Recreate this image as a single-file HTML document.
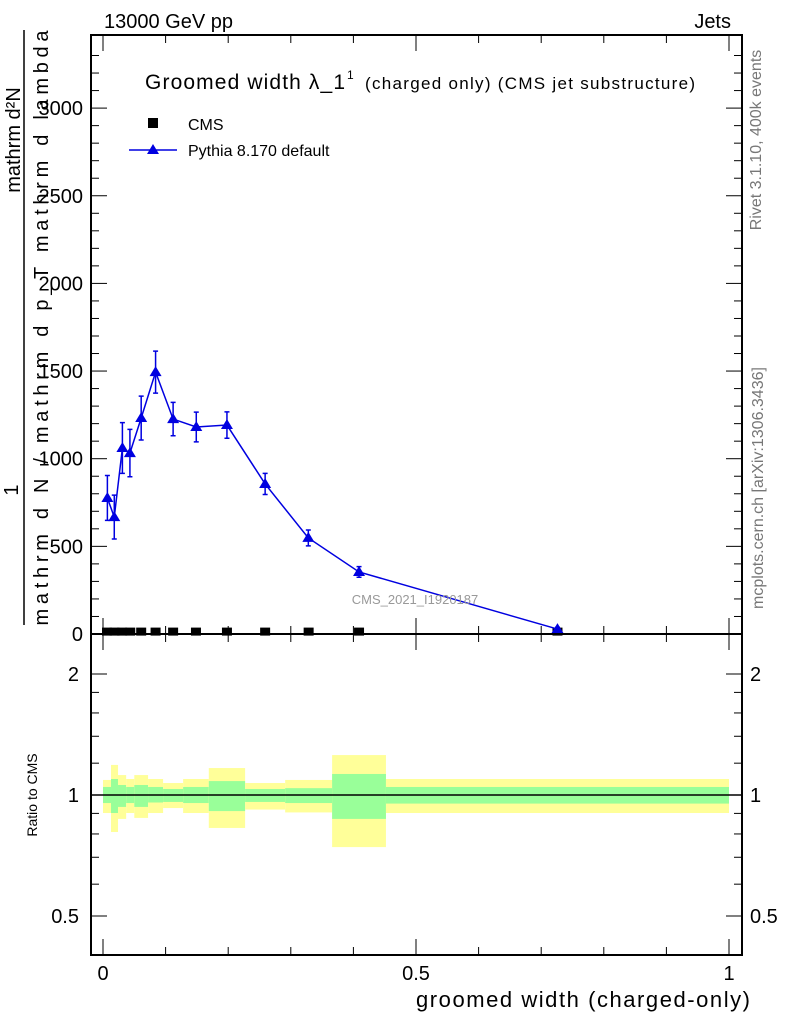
<!DOCTYPE html>
<html><head><meta charset="utf-8"><style>
body{margin:0;background:#fff;}
svg{display:block;font-family:"Liberation Sans",sans-serif;}
</style></head><body>
<svg id="c" width="786" height="1024" viewBox="0 0 786 1024">
<g id="bands"></g>
<g id="main"></g>
<g id="axes" stroke="#000" fill="none"></g>
<text x="104" y="28" font-size="20">13000 GeV pp</text>
<text x="731" y="28" font-size="20" text-anchor="end">Jets</text>
<text x="145" y="89" font-size="21" textLength="200">Groomed width λ_1</text>
<text x="347" y="79" font-size="12">1</text>
<text x="365" y="89" font-size="17" textLength="330">(charged only) (CMS jet substructure)</text>
<rect x="148" y="118" width="10" height="10" fill="#000"/>
<text x="188" y="130" font-size="16">CMS</text>
<line x1="129" y1="150" x2="177" y2="150" stroke="#0000e0" stroke-width="1.5"/>
<polygon points="153,144 147,154 159,154" fill="#0000e0"/>
<text x="188" y="156" font-size="16">Pythia 8.170 default</text>
<text x="415" y="604" font-size="13" fill="#999" text-anchor="middle">CMS_2021_I1920187</text>
<text transform="translate(761,140) rotate(-90)" font-size="16" fill="#777" text-anchor="middle">Rivet 3.1.10,  400k events</text>
<text transform="translate(763,488) rotate(-90)" font-size="16" fill="#777" text-anchor="middle">mcplots.cern.ch [arXiv:1306.3436]</text>
<g font-size="20">
<text transform="translate(18,490) rotate(-90)" text-anchor="middle">1</text>
<line x1="24" y1="625" x2="24" y2="30" stroke="#000" stroke-width="1.5"/>
<text transform="translate(48,328) rotate(-90)" text-anchor="middle" textLength="595">mathrm d N / mathrm d p_T mathrm d lambda</text>
<text transform="translate(20,140) rotate(-90)" text-anchor="middle">mathrm d²N</text>
</g>
<text transform="translate(37,795) rotate(-90)" font-size="14" text-anchor="middle">Ratio to CMS</text>
<text x="750" y="1007" font-size="22" text-anchor="end" textLength="334">groomed width (charged-only)</text>
</svg>
<script>
const binEdges=[0,0.0128,0.024,0.037,0.05,0.072,0.096,0.128,0.169,0.227,0.291,0.366,0.452,1.0];
const pythiaX=[0.007,0.018,0.031,0.043,0.061,0.084,0.112,0.149,0.198,0.259,0.328,0.409,0.726];
const pythiaY=[776,667,1061,1032,1232,1494,1226,1181,1192,856,548,354,28];
const pythiaErr=[128,125,145,135,125,120,95,85,75,60,45,30,10];
const cmsY=[8,8,8,8,8,8,8,8,8,8,8,8,8];
const yellowHi=[1.09,1.188,1.121,1.096,1.121,1.096,1.071,1.096,1.167,1.071,1.09,1.257,1.096];
const yellowLo=[0.902,0.809,0.872,0.902,0.877,0.902,0.928,0.902,0.828,0.92,0.905,0.742,0.902];
const greenHi=[1.047,1.096,1.059,1.047,1.059,1.047,1.035,1.047,1.083,1.035,1.04,1.128,1.047];
const greenLo=[0.955,0.902,0.934,0.955,0.934,0.958,0.961,0.955,0.912,0.961,0.955,0.872,0.952];
const yTicks=[0,500,1000,1500,2000,2500,3000];
const xTicks=[0,0.5,1];
const rTicks=[0.5,1,2];

const NS="http://www.w3.org/2000/svg";
const L=91,R=742,T=35,MB=634,RB=955;
const X=v=>103+v*626;
const Y=v=>634-v*0.1753;
const RY=r=>795-121*Math.log2(r);
function mk(tag,at,parent){const e=document.createElementNS(NS,tag);for(const k in at)e.setAttribute(k,at[k]);parent.appendChild(e);return e;}
const bands=document.getElementById('bands'),main=document.getElementById('main'),axes=document.getElementById('axes');
for(let i=0;i<binEdges.length-1;i++){
  const x1=X(binEdges[i]),x2=X(binEdges[i+1]);
  const y=mk('rect',{x:x1,y:RY(yellowHi[i]),width:x2-x1,height:RY(yellowLo[i])-RY(yellowHi[i]),fill:'#ffff99'},bands);
  
  
  const g=mk('rect',{x:x1,y:RY(greenHi[i]),width:x2-x1,height:RY(greenLo[i])-RY(greenHi[i]),fill:'#99ff99'},bands);
  
  
  const c=mk('rect',{x:x1+(x2-x1)/2-5,y:Y(cmsY[i])-5,width:10,height:8,fill:'#000'},main);
  
  
}
const rl=mk('line',{x1:L,x2:R,y1:RY(1),y2:RY(1),stroke:'#000','stroke-width':1.5},bands);


const pl=mk('polyline',{points:pythiaX.map((x,i)=>X(x)+','+Y(pythiaY[i])).join(' '),fill:'none',stroke:'#0000e0','stroke-width':1.5},main);


pythiaX.forEach((x,i)=>{
  const px=X(x),py=Y(pythiaY[i]),t=Y(pythiaY[i]+pythiaErr[i]),b=Y(pythiaY[i]-pythiaErr[i]);
  mk('path',{d:`M${px},${t}V${b}M${px-2.5},${t}h5M${px-2.5},${b}h5`,stroke:'#0000e0','stroke-width':1.5,fill:'none'},main);
  const p=mk('polygon',{points:`${px},${py-6} ${px-6},${py+4} ${px+6},${py+4}`,fill:'#0000e0'},main);
  
  
});
mk('rect',{x:L,y:T,width:R-L,height:MB-T,'stroke-width':2},axes);
mk('rect',{x:L,y:MB,width:R-L,height:RB-MB,'stroke-width':2},axes);
for(let v=0;v<=3350;v+=100){const y=Y(v);if(y<T)break;const len=v%500===0?16:8;
  mk('line',{x1:L,x2:L+len,y1:y,y2:y},axes);mk('line',{x1:R,x2:R-len,y1:y,y2:y},axes);}
yTicks.forEach(v=>{const t=mk('text',{x:83,y:Y(v)+7,'font-size':20,'text-anchor':'end',fill:'#000',stroke:'none'},axes);t.textContent=v;
  
  });
for(let i=0;i<=10;i++){const v=i/10,x=X(v),len=i%5===0?16:8;
  mk('line',{x1:x,x2:x,y1:MB,y2:MB-len},axes);mk('line',{x1:x,x2:x,y1:T,y2:T+len},axes);
  mk('line',{x1:x,x2:x,y1:RB,y2:RB-len},axes);mk('line',{x1:x,x2:x,y1:MB,y2:MB+len},axes);}
xTicks.forEach(v=>{const t=mk('text',{x:X(v),y:980,'font-size':20,'text-anchor':'middle',fill:'#000',stroke:'none'},axes);t.textContent=v;
  
  });
[0.5,0.6,0.7,0.8,0.9,1,1.2,1.4,1.6,1.8,2].forEach(r=>{const y=RY(r),len=rTicks.includes(r)?16:8;
  mk('line',{x1:L,x2:L+len,y1:y,y2:y},axes);mk('line',{x1:R,x2:R-len,y1:y,y2:y},axes);});
rTicks.forEach(r=>{
  const t=mk('text',{x:79,y:RY(r)+7,'font-size':20,'text-anchor':'end',fill:'#000',stroke:'none'},axes);t.textContent=r;
  
  
  const t2=mk('text',{x:750,y:RY(r)+7,'font-size':20,fill:'#000',stroke:'none'},axes);t2.textContent=r;
  
  
});
</script>
</body></html>
